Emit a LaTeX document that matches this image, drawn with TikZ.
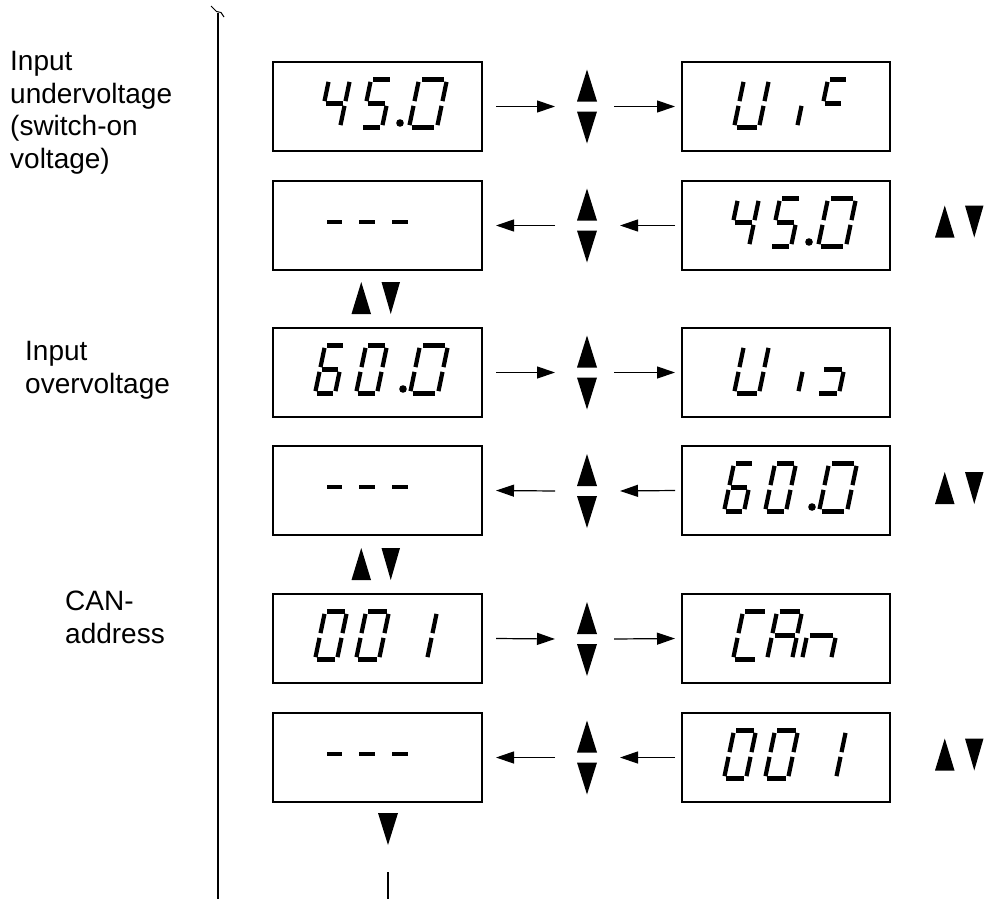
\documentclass[tikz,border=0pt]{standalone}
\usepackage{fontspec}
\setmainfont{Liberation Sans}
\usetikzlibrary{arrows.meta,calc}
\tikzset{
  disp/.style={draw, line width=1.5pt, minimum width=209pt, minimum height=89pt, inner sep=0pt, outer sep=0pt, anchor=north west},
  updown/.style={minimum width=20pt, minimum height=74pt, inner sep=0pt, outer sep=0pt},
  segline/.style={line width=4.2pt, line cap=butt},
  dashseg/.style={line width=4.2pt, line cap=butt},
  conn/.style={line width=1.2pt, -{Triangle[length=18pt,width=12pt]}},
  lbl/.style={font=\fontsize{28}{32.5}\selectfont, align=left, inner sep=0pt, anchor=base west},
  pics/vpair/.style={code={
    \fill (0,-37) -- (10,-5) -- (-10,-5) -- cycle;
    \fill (-10,5) -- (10,5) -- (0,37) -- cycle;
  }},
  pics/hpair/.style={code={
    \fill (-24.5,16) -- (-5,16) -- (-14.75,-16) -- cycle;
    \fill (5.5,-16) -- (24,-16) -- (14.75,16) -- cycle;
  }},
}
% seven-segment pieces in unit digit coordinates
\newcommand\segda{\draw[segline] (0.1,1)--(0.9,1);}
\newcommand\segdb{\draw[segline] (1,0.95)--(1,0.55);}
\newcommand\segdc{\draw[segline] (1,0.45)--(1,0.05);}
\newcommand\segdd{\draw[segline] (0.1,0)--(0.9,0);}
\newcommand\segde{\draw[segline] (0,0.45)--(0,0.05);}
\newcommand\segdf{\draw[segline] (0,0.95)--(0,0.55);}
\newcommand\segdg{\draw[segline] (0.1,0.5)--(0.9,0.5);}
% #1 x0 (bottom left), #2 y bottom, #3 width, #4 segments
\newcommand\sevseg[4]{%
  \begin{scope}[shift={(#1,#2)},x={(#3pt,0pt)},y={(10pt,48pt)}]
    \foreach \q in {#4}{\csname segd\q\endcsname}
  \end{scope}}
% displays, #1 = box x, #2 = box y
\newcommand\dispfive[2]{%
  \sevseg{#1+46}{#2+65.5}{21}{b,c,f,g}
  \sevseg{#1+88}{#2+65.5}{21}{a,c,d,f,g}
  \fill (#1+127,#2+61) circle (3.8);
  \sevseg{#1+136}{#2+65.5}{28}{a,b,c,d,e,f}}
\newcommand\dispsix[2]{%
  \sevseg{#1+42}{#2+65.5}{20}{a,c,d,e,f,g}
  \sevseg{#1+83}{#2+65.5}{21}{a,b,c,d,e,f}
  \fill (#1+130,#2+61) circle (3.8);
  \sevseg{#1+137}{#2+65.5}{28}{a,b,c,d,e,f}}
\newcommand\dispone[2]{%
  \sevseg{#1+42}{#2+65.5}{22}{a,b,c,d,e,f}
  \sevseg{#1+83}{#2+65.5}{23}{a,b,c,d,e,f}
  \sevseg{#1+131}{#2+65.5}{23}{b,c}}
\newcommand\dispdash[2]{%
  \draw[dashseg] (#1+54,#2+41) -- (#1+69,#2+41);
  \draw[dashseg] (#1+86,#2+41) -- (#1+102,#2+41);
  \draw[dashseg] (#1+119,#2+41) -- (#1+135,#2+41);}
\begin{document}
\begin{tikzpicture}[x=1pt,y=-1pt]
\useasboundingbox (0,0) rectangle (987,899);
\fill[white] (0,0) rectangle (987,899);

% vertical line at the left
\draw[line width=1.2pt] (218,13) -- (218,899);
\draw[line width=1pt] (211,6) -- (216.5,11.5) -- (221,12.5) -- (224,17);

% labels (anchor = baseline of the last line)
\node[lbl] (t1) at (10,168) {Input\\undervoltage\\(switch-on\\voltage)};
\node[lbl] (t3) at (25,393) {Input\\overvoltage};
\node[lbl] (t5) at (65,643) {CAN-\\address};

% boxes
\node[disp] (L1) at (273,62) {};
\node[disp] (L2) at (273,181) {};
\node[disp] (L3) at (273,328) {};
\node[disp] (L4) at (273,446) {};
\node[disp] (L5) at (273,594) {};
\node[disp] (L6) at (273,713) {};
\node[disp, minimum width=208pt] (R1) at (682,62) {};
\node[disp, minimum width=208pt] (R2) at (682,181) {};
\node[disp, minimum width=208pt] (R3) at (682,328) {};
\node[disp, minimum width=208pt] (R4) at (682,446) {};
\node[disp, minimum width=208pt] (R5) at (682,594) {};
\node[disp, minimum width=208pt] (R6) at (682,713) {};

% up/down key symbols
\node[updown] (U1) at (587,106.5) {};
\node[updown] (U2) at (587,225.5) {};
\node[updown] (U3) at (587,372.5) {};
\node[updown] (U4) at (587,491) {};
\node[updown] (U5) at (587,639) {};
\node[updown] (U6) at (587,757.5) {};
\foreach \u in {U1,U2,U3,U4,U5,U6} {\pic at (\u) {vpair};}

% connectors
\foreach \l/\u/\r in {L1/U1/R1, L3/U3/R3, L5/U5/R5} {
  \draw[conn] ([xshift=14]\l.east) -- ([xshift=-32]\u.center);
  \draw[conn] ([xshift=27]\u.center) -- ([xshift=-7]\r.west);
}
\foreach \l/\u/\r in {L2/U2/R2, L4/U4/R4, L6/U6/R6} {
  \draw[conn] ([xshift=-7]\r.west) -- ([xshift=33]\u.center);
  \draw[conn] ([xshift=-32]\u.center) -- ([xshift=14]\l.east);
}

% side key symbols
\pic at (376,298) {hpair};
\pic at (376,564) {hpair};
\pic at (959.5,221.5) {hpair};
\pic at (959.5,488) {hpair};
\pic at (959.5,754.5) {hpair};

% bottom
\fill (378,813) -- (398,813) -- (388,845) -- cycle;
\draw[line width=1.2pt] (388,872) -- (388,899);

% display contents
\dispfive{273}{62}
\dispdash{273}{181}
\dispsix{273}{328}
\dispdash{273}{446}
\dispone{273}{594}
\dispdash{273}{713}
\dispfive{682}{181}
\dispsix{682}{446}
\dispone{682}{713}
% Uic
\sevseg{734}{127.5}{25}{b,c,d,e,f}
\sevseg{797}{127.5}{20}{e}
\sevseg{818}{127.5}{20}{a,f,g}
% Uio
\sevseg{734}{393.5}{25}{b,c,d,e,f}
\sevseg{798}{393.5}{20}{e}
\sevseg{817}{393.5}{22}{c,d,g}
% CAn
\sevseg{733}{659.5}{24}{a,d,e,f}
\sevseg{767}{659.5}{25}{a,b,c,e,f,g}
\sevseg{802}{659.5}{29}{c,e,g}
\end{tikzpicture}
\end{document}
